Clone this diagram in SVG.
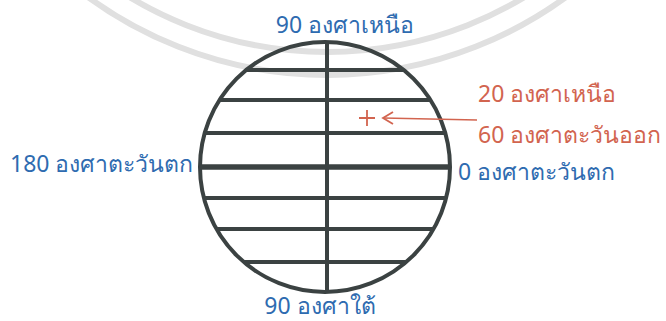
<svg xmlns="http://www.w3.org/2000/svg" width="666" height="321" viewBox="0 0 666 321">
<style>
.grid{stroke:#3b4242;stroke-width:4;fill:none;stroke-linecap:butt}
.eq{stroke-width:5.5}
.blue{fill:#2e6bb0;font-family:"Noto Sans","DejaVu Sans",sans-serif;font-size:23px}
.red{fill:#d2644f;font-family:"Noto Sans","DejaVu Sans",sans-serif;font-size:23px}
.wm{stroke:#e0e0e0;stroke-width:6;fill:none}
</style>
<rect width="666" height="321" fill="#ffffff"/>
<g id="watermark">
<circle class="wm" cx="327" cy="-330" r="405"/>
<circle class="wm" cx="327" cy="-330" r="382"/>
</g>
<g id="globe">
<circle class="grid" cx="325" cy="167" r="125" stroke-width="5"/>
<line class="grid" x1="327" y1="42" x2="327" y2="292" stroke-width="4.5"/>
<line class="grid" x1="246" y1="70" x2="404" y2="70"/>
<line class="grid" x1="220" y1="100" x2="430" y2="100"/>
<line class="grid" x1="205" y1="133" x2="445" y2="133"/>
<line class="grid eq" x1="200" y1="167" x2="450" y2="167"/>
<line class="grid" x1="204" y1="198" x2="446" y2="198"/>
<line class="grid" x1="217" y1="229" x2="433" y2="229"/>
<line class="grid" x1="244" y1="262" x2="406" y2="262"/>
</g>
<g id="labels">
<text class="blue" x="345" y="33" text-anchor="middle">90 องศาเหนือ</text>
<text class="blue" x="320" y="314" text-anchor="middle">90 องศาใต้</text>
<text class="blue" x="10" y="172">180 องศาตะวันตก</text>
<text class="blue" x="458" y="180">0 องศาตะวันตก</text>
</g>
<g id="point">
<path d="M359 118 H375 M367 110 V126" stroke="#d2644f" stroke-width="1.8" fill="none"/>
<text class="red" x="478" y="102">20 องศาเหนือ</text>
<text class="red" x="478" y="143">60 องศาตะวันออก</text>
</g>
<g id="connectors">
<path d="M477 120 L383 118" stroke="#d2644f" stroke-width="1.6" fill="none"/>
<path d="M393 112 L383 118 L393 124" stroke="#d2644f" stroke-width="1.8" fill="none"/>
</g>
</svg>
